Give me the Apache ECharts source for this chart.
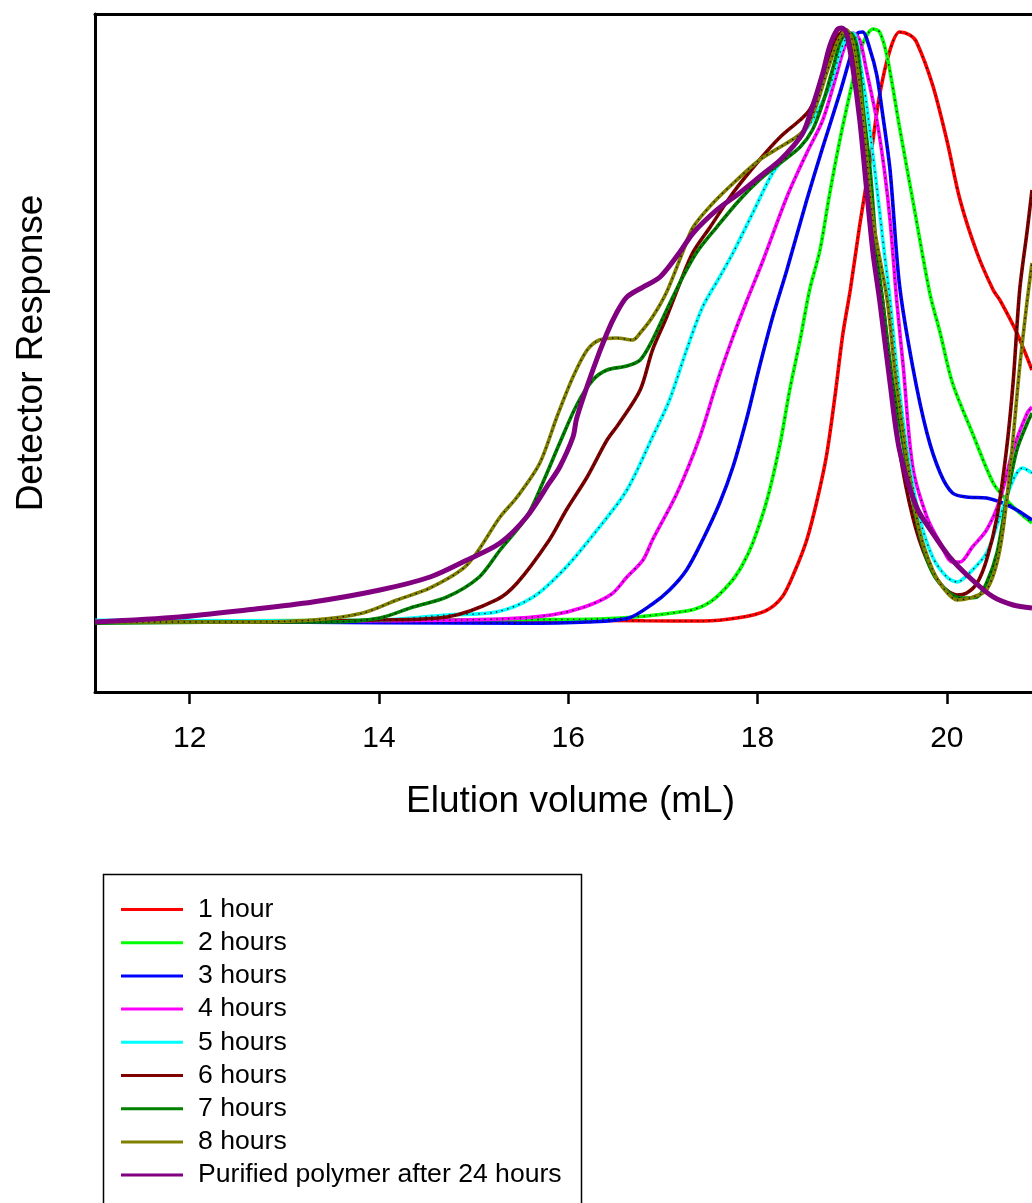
<!DOCTYPE html>
<html><head><meta charset="utf-8">
<script src="https://cdn.jsdelivr.net/npm/echarts@6/dist/echarts.min.js"></script>
<style>html,body{margin:0;padding:0;background:#fff}#chart{width:1032px;height:1203px}</style>
</head><body><div id="chart"></div>
<script>
const FONT = '"Liberation Sans", Arial, Helvetica, sans-serif';

const seriesNames = ['1 hour','2 hours','3 hours','4 hours','5 hours','6 hours','7 hours','8 hours','Purified polymer after 24 hours'];
const seriesColors = ['#FF0000','#00FF00','#0000FF','#FF00FF','#00FFFF','#800000','#008000','#808000','#800080'];
const xTicks = [12,14,16,18,20];
const xTitle = 'Elution volume (mL)';
const yTitle = 'Detector Response';

const hour1 = [[11,0],[12,0.2],[13,0],[14,0.2],[15,0.2],[16,0.3],[16.8,0.2],[17.43,0.17],[17.78,0.67],[18.08,1.83],[18.26,4.17],[18.39,8.33],[18.52,13.67],[18.63,20.33],[18.73,27.83],[18.82,37.83],[18.9,47.83],[18.98,55.33],[19.08,66.17],[19.19,77],[19.29,87.83],[19.4,95.33],[19.5,98.33],[19.61,97.83],[19.68,96.67],[19.85,89.5],[20.0,80.33],[20.14,70.33],[20.32,61.5],[20.49,55.33],[20.56,53.67],[20.74,48.17],[20.9,42]];
const hour2 = [[11,0.2],[12.5,0.2],[14,0.3],[15.5,0.4],[16.33,0.5],[17.25,1.83],[17.5,3.33],[17.72,6.67],[17.84,9.5],[17.95,13.17],[18.1,20.33],[18.24,29.83],[18.34,38.67],[18.45,47],[18.55,55.33],[18.66,62],[18.76,71.17],[18.87,80.33],[18.98,88.33],[19.08,95],[19.15,97.67],[19.22,98.83],[19.29,98.33],[19.37,94.17],[19.5,82.5],[19.64,70.33],[19.82,54.83],[19.93,48.17],[20.06,39.83],[20.27,31.5],[20.49,23.17],[20.63,20.33],[20.77,18.17],[20.9,16.5]];
const hour3 = [[11,0],[12.5,0],[14,-0.1],[15.5,-0.2],[16.2,0],[16.64,0.67],[16.89,3],[17.07,5.33],[17.25,8.67],[17.42,13.67],[17.6,19.83],[17.74,25.83],[17.89,34.17],[18.02,42.5],[18.16,50.83],[18.31,58.67],[18.52,70.33],[18.69,79.17],[18.87,88.17],[18.98,94.17],[19.06,98.17],[19.11,98.33],[19.19,95.33],[19.26,91.17],[19.32,84.83],[19.4,75.33],[19.5,56.17],[19.64,42.5],[19.79,31.5],[19.93,24.83],[20.06,21.5],[20.21,20.83],[20.42,20.67],[20.59,19.83],[20.74,18.67],[20.9,17]];
const hour4 = [[11,0.1],[12.5,0.1],[14,0.2],[15.28,0.5],[15.82,1.17],[16.17,2.5],[16.46,4.67],[16.62,7.5],[16.79,10.33],[16.89,13.67],[17.15,21.5],[17.39,30.83],[17.57,39.83],[17.74,47.5],[17.89,53.67],[18.06,60.33],[18.31,70.83],[18.52,78.17],[18.69,83.67],[18.84,91.5],[18.92,95.83],[19.01,98.17],[19.08,97],[19.15,92],[19.26,83.67],[19.34,75.33],[19.4,67],[19.47,53.67],[19.54,42.5],[19.64,25.83],[19.79,17.5],[19.93,13.17],[20.06,10],[20.14,10],[20.27,12.5],[20.42,15.33],[20.56,20.33],[20.7,28.67],[20.85,34.83],[20.9,35.83]];
const hour5 = [[11,0.3],[12.5,0.2],[14,0.3],[14.72,1.17],[15.24,1.67],[15.63,4.17],[15.98,9.17],[16.33,15.83],[16.62,22],[16.89,30.83],[17.07,37],[17.25,45.33],[17.42,52.5],[17.6,57.5],[17.74,61.5],[17.95,68.17],[18.16,74.83],[18.37,79.17],[18.58,83.67],[18.76,89.17],[18.87,94.83],[18.94,97.5],[18.98,98.17],[19.03,97.83],[19.08,93.67],[19.15,86.5],[19.26,72.5],[19.34,61.5],[19.4,53.67],[19.47,42.5],[19.58,28.67],[19.71,17.5],[19.85,10.83],[20.0,7.5],[20.11,6.67],[20.24,8.17],[20.42,11.5],[20.56,17.5],[20.7,23.67],[20.8,25.67],[20.9,24.83]];
const hour6 = [[11,0],[12.5,0],[14.01,0.33],[14.72,0.83],[15.24,3.67],[15.46,6.5],[15.8,13.67],[15.98,18.67],[16.2,24.17],[16.41,30.33],[16.54,33.17],[16.76,38.67],[16.89,45.33],[17.04,50.83],[17.18,56.5],[17.32,61.67],[17.5,65.83],[17.74,71.5],[18.02,77],[18.24,80.83],[18.45,83.67],[18.55,85.33],[18.66,89.17],[18.76,94.17],[18.84,97.5],[18.89,98.33],[18.94,98.67],[19.01,94.83],[19.08,86.5],[19.15,75.33],[19.22,64.17],[19.32,53.67],[19.4,42.5],[19.5,28.67],[19.64,17.5],[19.79,10.33],[19.96,5.83],[20.11,4.5],[20.21,4.83],[20.32,6.5],[20.42,10.33],[20.53,17.5],[20.63,28.67],[20.7,39.83],[20.77,55.33],[20.85,65.33],[20.9,72]];
const hour7 = [[11,-0.2],[12.5,0],[13.48,0],[14.01,0.67],[14.36,2.5],[14.72,4.17],[15.06,7.5],[15.28,12],[15.56,17.5],[15.73,23.17],[15.91,29.83],[16.09,36.17],[16.26,40.33],[16.41,42],[16.62,42.67],[16.76,43.67],[16.89,47],[17.04,52],[17.21,57.5],[17.36,61.67],[17.57,65.83],[17.81,70.33],[18.02,73.67],[18.24,76.5],[18.45,79.17],[18.58,82],[18.69,86.5],[18.8,92.5],[18.87,96.5],[18.92,97.83],[18.98,98.17],[19.05,95.83],[19.11,86.5],[19.19,75.33],[19.26,61.5],[19.32,53.67],[19.43,39.83],[19.58,25.83],[19.71,14.83],[19.85,8.17],[20.03,4.83],[20.17,4],[20.32,4.17],[20.42,6.5],[20.53,11.5],[20.63,20.33],[20.74,28.67],[20.85,33.17],[20.9,34.83]];
const hour8 = [[11,0],[12.5,0],[13.3,0.33],[13.83,1.5],[14.19,3.67],[14.54,5.67],[14.93,9.5],[15.28,17.5],[15.46,20.83],[15.7,26.5],[15.88,34.17],[16.05,40.83],[16.2,45.33],[16.33,47],[16.51,47.33],[16.68,47],[16.76,48.17],[16.89,50.83],[17.04,55],[17.21,61.67],[17.32,65.83],[17.53,69.83],[17.78,73.67],[18.02,77],[18.24,79.17],[18.41,80.83],[18.52,82.5],[18.63,86.5],[18.73,91.5],[18.84,96.5],[18.9,98.17],[18.94,98.67],[19.01,96.5],[19.08,89.17],[19.15,78.17],[19.22,67],[19.37,53.67],[19.45,42],[19.58,27],[19.71,15.33],[19.85,8.67],[19.98,5.33],[20.11,3.67],[20.24,4],[20.42,5.33],[20.56,12],[20.67,25.83],[20.77,42.5],[20.85,53.67],[20.9,59.83]];
const purified24 = [[11,0],[11.89,0.83],[12.6,2],[13.3,3.33],[14.01,5.33],[14.54,7.5],[14.93,10.33],[15.28,13.17],[15.56,17.5],[15.8,23.17],[15.91,25.83],[16.05,30.83],[16.09,34],[16.26,42],[16.41,48.17],[16.51,51.5],[16.62,54.17],[16.79,55.83],[16.97,57.5],[17.18,61.67],[17.32,64.83],[17.57,68.67],[17.81,71.5],[18.02,74.17],[18.24,77],[18.37,79.17],[18.48,81.5],[18.58,85.83],[18.69,91.5],[18.76,95.83],[18.84,98.67],[18.89,99],[18.94,98.17],[19.01,92],[19.08,83.67],[19.15,72.5],[19.22,61.5],[19.29,53.67],[19.4,39.83],[19.5,28.67],[19.68,19.17],[19.85,14.83],[20.03,10.83],[20.27,7],[20.49,4.17],[20.7,2.83],[20.9,2.33]];

const allData = [hour1,hour2,hour3,hour4,hour5,hour6,hour7,hour8,purified24];

const series = [];
allData.forEach((d, i) => {
  const isPurple = i === 8;
  series.push({
    name: seriesNames[i], type: 'line', data: d, smooth: 0.3, showSymbol: false,
    xAxisIndex: 0, yAxisIndex: 0,
    lineStyle: { color: seriesColors[i], width: isPurple ? 5 : 3.6 },
    itemStyle: { color: seriesColors[i] }, z: 2 + i, silent: true
  });
  if (!isPurple) {
    series.push({
      name: seriesNames[i] + ' trace', type: 'line', data: d, smooth: 0.3, showSymbol: false,
      xAxisIndex: 0, yAxisIndex: 0,
      lineStyle: { color: '#000', width: 1.4, type: [1.4, 4.5], opacity: 0.85 },
      itemStyle: { color: '#000' }, z: 2 + i, silent: true
    });
  }
});

const chart = echarts.init(document.getElementById('chart'), null, { renderer: 'canvas' });
chart.setOption({
  animation: false,
  backgroundColor: '#fff',
  textStyle: { fontFamily: FONT },
  grid: { left: 95, right: 0, top: 14, bottom: 511, show: false },
  xAxis: [{
    type: 'value', min: 11, max: 20.9, position: 'bottom',
    name: xTitle, nameLocation: 'middle', nameGap: 91,
    nameTextStyle: { fontSize: 37, color: '#000', fontFamily: FONT, padding: [0, 0, 0, 14] },
    axisLine: { show: true, onZero: false, lineStyle: { color: '#000', width: 3 } },
    axisTick: { show: true, length: 12, customValues: xTicks, lineStyle: { color: '#000', width: 2.5 } },
    axisLabel: { show: true, customValues: xTicks, margin: 32, fontSize: 30, color: '#000', fontFamily: FONT },
    splitLine: { show: false }
  }, {
    type: 'value', min: 11, max: 20.9, position: 'top',
    axisLine: { show: true, onZero: false, lineStyle: { color: '#000', width: 3 } },
    axisTick: { show: false }, axisLabel: { show: false }, splitLine: { show: false }
  }],
  yAxis: {
    type: 'value', min: -11.667, max: 101.333,
    name: yTitle, nameLocation: 'middle', nameGap: 45, nameRotate: 90,
    nameTextStyle: { fontSize: 37, color: '#000', fontFamily: FONT },
    axisLine: { show: true, onZero: false, lineStyle: { color: '#000', width: 3 } },
    axisTick: { show: false }, axisLabel: { show: false }, splitLine: { show: false }
  },
  legend: {
    data: seriesNames, orient: 'vertical', left: 121, top: 896, padding: 0,
    itemWidth: 62, itemHeight: 3, itemGap: 6.2, icon: 'rect',
    textStyle: { fontSize: 26.6, color: '#000', fontFamily: FONT, padding: [0,0,0,10] },
    selectedMode: false
  },
  graphic: [{
    type: 'rect', left: 101, top: 872, shape: { width: 478, height: 400 },
    style: { fill: 'none', stroke: '#000', lineWidth: 1.5 }, silent: true, z: 0
  }],
  series: series
});
</script>
</body></html>
